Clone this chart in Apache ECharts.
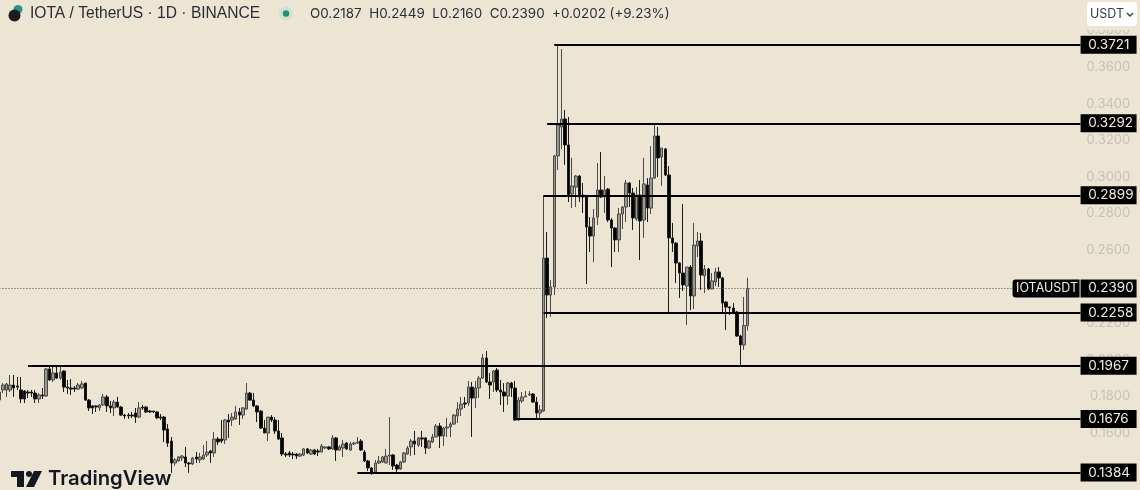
<!DOCTYPE html>
<html><head><meta charset="utf-8">
<style>html,body{margin:0;padding:0;background:#ece5d3}#c{width:1140px;height:490px}</style>
<script src="https://cdn.jsdelivr.net/npm/echarts@6/dist/echarts.min.js"></script>
</head><body><div id="c"></div>
<script>
// rows are [open, close, low, high]
const candlesEarly = [
[.1780,.1824,.1682,.1862],[.1835,.1862,.1818,.1873],[.1835,.1868,.1797,.1873],[.1835,.1862,.1824,.1917],[.1862,.1846,.1797,.1917],
[.1857,.1851,.1835,.1906],[.1835,.1786,.1764,.1906],[.1829,.1786,.1764,.1835],[.1824,.1818,.1791,.1835],[.1824,.1818,.1797,.1835],
[.1818,.1786,.1764,.1835],[.1786,.1808,.1764,.1818],[.1808,.1802,.1786,.1846],[.1802,.1950,.1797,.1955],[.1950,.1890,.1884,.1966],
[.1890,.1928,.1879,.1966],[.1928,.1900,.1895,.1966],[.1900,.1933,.1890,.1966],[.1939,.1851,.1824,.1944],[.1851,.1846,.1813,.1890],
[.1846,.1840,.1808,.1895],[.1846,.1840,.1824,.1857],[.1840,.1862,.1835,.1873],[.1846,.1868,.1840,.1884],[.1873,.1780,.1775,.1873],
[.1780,.1737,.1720,.1786],[.1748,.1737,.1704,.1753],[.1748,.1742,.1715,.1753],[.1737,.1753,.1720,.1758],[.1753,.1797,.1748,.1813],
[.1797,.1748,.1715,.1808],[.1748,.1737,.1709,.1775],[.1737,.1769,.1693,.1780],[.1769,.1742,.1737,.1797],[.1742,.1698,.1693,.1748],
[.1698,.1693,.1677,.1704],[.1698,.1693,.1677,.1709],[.1698,.1693,.1682,.1715],[.1709,.1687,.1655,.1737],[.1687,.1737,.1682,.1769],
[.1742,.1737,.1726,.1753],[.1742,.1715,.1709,.1748],[.1720,.1715,.1709,.1726],[.1720,.1715,.1709,.1720],[.1715,.1682,.1677,.1720],
[.1687,.1682,.1671,.1704],[.1687,.1616,.1551,.1693],[.1622,.1545,.1524,.1649],[.1556,.1436,.1382,.1578],[.1436,.1453,.1420,.1463],
[.1447,.1469,.1442,.1474],[.1463,.1474,.1447,.1480],[.1469,.1436,.1414,.1524],[.1436,.1431,.1382,.1442],[.1431,.1463,.1425,.1469],
[.1469,.1458,.1436,.1496],[.1453,.1469,.1436,.1491],[.1458,.1480,.1453,.1534],[.1480,.1496,.1469,.1556],[.1502,.1491,.1436,.1507],
[.1491,.1567,.1469,.1605],[.1567,.1551,.1534,.1578],[.1567,.1556,.1545,.1671],[.1562,.1671,.1540,.1677],[.1671,.1660,.1573,.1704],
[.1671,.1687,.1638,.1709],[.1677,.1715,.1671,.1748],[.1715,.1698,.1644,.1737],[.1698,.1737,.1677,.1742],[.1731,.1818,.1726,.1873],
[.1818,.1780,.1775,.1824],[.1780,.1748,.1742,.1818],[.1748,.1715,.1660,.1753],[.1720,.1627,.1622,.1726],[.1627,.1600,.1600,.1671],
[.1600,.1687,.1556,.1687],[.1687,.1671,.1660,.1698],[.1671,.1611,.1595,.1687],[.1611,.1567,.1562,.1671]
];
const candlesMiddle = [
[.1573,.1485,.1474,.1600],[.1485,.1480,.1469,.1496],[.1491,.1480,.1469,.1502],[.1485,.1480,.1458,.1496],[.1485,.1474,.1458,.1491],
[.1474,.1485,.1469,.1491],[.1480,.1513,.1474,.1518],[.1513,.1491,.1485,.1518],[.1485,.1507,.1480,.1513],[.1507,.1485,.1480,.1513],
[.1502,.1496,.1474,.1513],[.1496,.1529,.1496,.1540],[.1518,.1524,.1513,.1529],[.1524,.1513,.1507,.1529],[.1513,.1573,.1507,.1589],
[.1573,.1507,.1447,.1578],[.1507,.1524,.1502,.1534],[.1518,.1540,.1469,.1562],[.1545,.1513,.1507,.1551],[.1507,.1540,.1502,.1551],
[.1540,.1545,.1534,.1551],[.1545,.1551,.1540,.1578],[.1556,.1507,.1502,.1567],[.1496,.1447,.1442,.1507],[.1447,.1409,.1392,.1453],
[.1409,.1382,.1371,.1414],[.1387,.1436,.1382,.1453],[.1436,.1447,.1431,.1474],[.1442,.1469,.1436,.1474],[.1436,.1474,.1436,.1513],
[.1474,.1480,.1425,.1687],[.1480,.1420,.1398,.1485],[.1425,.1403,.1387,.1431],[.1403,.1442,.1398,.1447],[.1442,.1491,.1436,.1496],
[.1485,.1518,.1480,.1529],[.1524,.1556,.1474,.1567],[.1556,.1540,.1480,.1611],[.1534,.1573,.1524,.1578],[.1573,.1567,.1524,.1611],
[.1573,.1518,.1485,.1578],[.1518,.1556,.1513,.1562],[.1551,.1578,.1545,.1595],[.1578,.1638,.1578,.1649],[.1638,.1584,.1518,.1655],
[.1584,.1627,.1529,.1633],[.1627,.1633,.1578,.1682],[.1633,.1649,.1578,.1660],[.1649,.1698,.1644,.1704],[.1693,.1731,.1655,.1769],
[.1731,.1758,.1693,.1797],[.1764,.1758,.1737,.1797],[.1764,.1851,.1748,.1884],[.1851,.1791,.1578,.1879],[.1791,.1846,.1737,.1884],
[.1846,.1900,.1791,.1911],[.1900,.2010,.1895,.2032],[.2010,.1879,.1873,.2048],[.1879,.1862,.1786,.1928],[.1879,.1939,.1824,.1944],
[.1944,.1835,.1824,.1955],[.1835,.1824,.1753,.1890],[.1824,.1802,.1715,.1873],[.1802,.1873,.1753,.1879],[.1873,.1846,.1797,.1879],
[.1846,.1671,.1666,.1884],[.1671,.1780,.1666,.1797],[.1775,.1797,.1764,.1824],[.1797,.1802,.1797,.1829],[.1808,.1813,.1802,.1829],
[.1813,.1769,.1764,.1818],[.1769,.1709,.1682,.1797],[.1709,.1726,.1671,.1753]
];
const candlesSpike = [
[.1720,.2556,.1715,.2900],[.2556,.2354,.2229,.2698],[.2354,.2398,.2234,.2436],[.2398,.3114,.2354,.3120],[.3114,.3283,.3037,.3721],
[.3272,.3316,.3152,.3698],[.3316,.3174,.3065,.3365],[.3174,.2900,.2862,.3327],[.2906,.2950,.2829,.3103],[.2944,.3004,.2835,.3010],
[.3004,.2890,.2862,.3010],[.2900,.2890,.2802,.2966],[.2890,.2726,.2414,.2895],[.2726,.2676,.2589,.2780],[.2676,.2775,.2534,.2824],
[.2780,.2928,.2737,.3075],[.2928,.2890,.2884,.3136],[.2890,.2928,.2802,.3004],[.2933,.2764,.2753,.2939],[.2764,.2720,.2507,.2775],
[.2720,.2655,.2589,.2726],[.2655,.2797,.2589,.2829],[.2797,.2835,.2715,.2840],[.2835,.2966,.2753,.2983],[.2966,.2911,.2835,.2972],
[.2911,.2775,.2709,.2939],[.2770,.2900,.2759,.2944],[.2900,.2759,.2545,.2983],[.2764,.2961,.2666,.3103],[.2955,.2829,.2753,.2993]
];
const candlesPullback = [
[.2829,.2993,.2797,.3168],[.2993,.3223,.2988,.3294],[.3223,.3103,.2999,.3272],[.3108,.3157,.2950,.3157],[.3152,.3010,.3004,.3157],
[.3010,.2666,.2256,.3059],[.2666,.2638,.2589,.2748],[.2638,.2529,.2420,.2644],[.2529,.2474,.2338,.2534],[.2474,.2409,.2376,.2851],
[.2403,.2507,.2190,.2507],[.2507,.2349,.2272,.2518],[.2349,.2627,.2277,.2748],[.2622,.2649,.2562,.2698],[.2649,.2463,.2382,.2693],
[.2458,.2496,.2365,.2518],[.2496,.2387,.2382,.2502],[.2387,.2431,.2387,.2474],[.2425,.2480,.2403,.2502],[.2480,.2447,.2398,.2507],
[.2447,.2310,.2256,.2453],[.2316,.2288,.2163,.2321],[.2288,.2283,.2245,.2294],[.2283,.2261,.2256,.2310],[.2261,.2130,.2125,.2267],
[.2130,.2081,.1971,.2136],[.2081,.2187,.2054,.2343],[.2187,.2390,.2160,.2449]
];
// [price, category index where the drawn level starts]
const levels = [[.3721,155],[.3292,153],[.2899,152],[.2258,152],[.1967,8],[.1676,144],[.1384,100]];
const lastPrice = .2390;
const symbolName = 'IOTAUSDT';
const titleText = 'IOTA / TetherUS · 1D · BINANCE';
const ohlcText = 'O0.2187  H0.2449  L0.2160  C0.2390  +0.0202 (+9.23%)';
const slotCount = 320, levelEnd = 302, tagStart = 283;

const candles = candlesEarly.concat(candlesMiddle, candlesSpike, candlesPullback);
const categories = Array.from({length: slotCount}, (_, i) => String(i));
const FONT = 'Inter, Roboto, sans-serif';
const tag = (txt, w, radius) => ({
  show: true, position: 'end', distance: 0, formatter: txt, color: '#f0ece0',
  backgroundColor: '#000', fontFamily: FONT, fontSize: 13.5, width: w, height: 18, lineHeight: 18,
  align: 'left', verticalAlign: 'middle', padding: [0, 0, 0, 0], borderRadius: radius
});
const markData = levels.map(([p, start]) => [
  {coord: [start, p], lineStyle: {color: '#000', width: p === .2258 ? 1.8 : 2.2, type: 'solid'},
   label: {...tag('  ' + p.toFixed(4), 56, 0)}},
  {coord: [levelEnd, p]}
]);
markData.unshift(
  [{coord: [0, lastPrice], lineStyle: {color: '#4a4a44', width: 1, type: [1, 2]},
    label: {...tag(' ' + symbolName, 67, [3, 0, 0, 3]), fontSize: 12.5}}, {coord: [tagStart, lastPrice]}],
  [{coord: [tagStart, lastPrice], lineStyle: {color: '#ece5d3', width: 1, type: 'solid'},
    label: {...tag('  ' + lastPrice.toFixed(4), 56, 0)}}, {coord: [levelEnd, lastPrice]}]
);

const chart = echarts.init(document.getElementById('c'), null, {renderer: 'canvas'});
chart.setOption({
  animation: false,
  backgroundColor: '#ece5d3',
  grid: {left: -2.37, right: -3.23, top: -6.2, height: 512.4, containLabel: false, outerBoundsMode: 'none'},
  xAxis: {type: 'category', data: categories, show: false, boundaryGap: true},
  yAxis: {type: 'value', position: 'right', min: .12, max: .40, interval: .02, scale: true,
    axisLine: {show: false}, axisTick: {show: false}, splitLine: {show: false},
    axisLabel: {inside: true, margin: 13, color: '#c3c1ba', fontFamily: FONT, fontSize: 13,
      showMinLabel: true, showMaxLabel: true, formatter: v => v.toFixed(4)}},
  series: [{
    type: 'candlestick', data: candles, barWidth: 3, clip: false,
    itemStyle: {color: '#9a978f', color0: '#000', borderColor: '#4a4a46', borderColor0: '#1c1c1a', borderWidth: 1},
    markLine: {silent: true, symbol: 'none', animation: false, z: 5, precision: 4, data: markData}
  }],
  graphic: [
    {type: 'rect', z: 20, shape: {x: 1081, y: 0, width: 59, height: 30}, style: {fill: '#ece5d3'}},
    {type: 'rect', z: 21, shape: {x: 1087, y: 2, width: 50, height: 24, r: 4}, style: {fill: '#fff'}},
    {type: 'text', z: 22, x: 1090, y: 14, style: {text: 'USDT', fill: '#3a3d45', font: '12.5px ' + FONT, verticalAlign: 'middle'}},
    {type: 'polyline', z: 22, shape: {points: [[1127, 13], [1130, 16], [1133, 13]]}, style: {stroke: '#3a3d45', lineWidth: 1.4, fill: 'none'}},
    {type: 'circle', z: 20, shape: {cx: 18, cy: 9.5, r: 4.5}, style: {fill: '#2f8f8c'}},
    {type: 'circle', z: 21, shape: {cx: 14.5, cy: 15.5, r: 6}, style: {fill: '#1b1c20'}},
    {type: 'text', z: 20, x: 30, y: 14, style: {text: titleText, fill: '#2a2e39', font: '15.6px ' + '"Liberation Sans", sans-serif', verticalAlign: 'middle'}},
    {type: 'circle', z: 20, shape: {cx: 286, cy: 13.5, r: 7}, style: {fill: '#d3dfcf'}},
    {type: 'circle', z: 21, shape: {cx: 286, cy: 13.5, r: 3.2}, style: {fill: '#1f8f7e'}},
    {type: 'text', z: 20, x: 310, y: 14, style: {text: ohlcText, fill: '#2a2e39', font: '13.4px ' + FONT, verticalAlign: 'middle'}},
    {type: 'polygon', z: 20, shape: {points: [[11, 471], [24, 471], [24, 487], [17, 487], [17, 477], [11, 477]]}, style: {fill: '#131722'}},
    {type: 'circle', z: 20, shape: {cx: 29, cy: 474, r: 3}, style: {fill: '#131722'}},
    {type: 'polygon', z: 20, shape: {points: [[34, 471], [42, 471], [34, 487], [26, 487]]}, style: {fill: '#131722'}},
    {type: 'text', z: 20, x: 48, y: 479, style: {text: 'TradingView', fill: '#131722', font: '600 20.3px ' + FONT, verticalAlign: 'middle'}}
  ]
});
</script></body></html>
